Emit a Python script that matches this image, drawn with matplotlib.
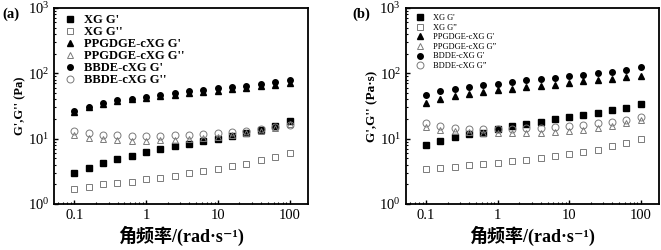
import numpy as np
import matplotlib
matplotlib.use("Agg")
import matplotlib.pyplot as plt

plt.rcParams["font.family"] = ["Liberation Serif", "Noto Sans CJK SC", "DejaVu Serif"]

freq = [0.1, 0.158, 0.251, 0.398, 0.631, 1, 1.58, 2.51, 3.98, 6.31, 10, 15.8, 25.1, 39.8, 63.1, 100]

# panel (a), Pa
a_xg_g1 = [3.0, 3.6, 4.25, 4.9, 5.5, 6.15, 6.9, 7.7, 8.4, 9.1, 10.0, 11.0, 12.0, 13.5, 15.5, 18.5]
a_xg_g2 = [1.67, 1.83, 2.0, 2.13, 2.2, 2.4, 2.54, 2.69, 2.95, 3.2, 3.44, 3.77, 4.14, 4.71, 5.29, 6.08]
a_pp_g1 = [26, 30.5, 33.7, 37.4, 40, 42.5, 44.6, 46.7, 49.5, 51.3, 53.7, 56.9, 59.7, 63.1, 66.1, 71]
a_pp_g2 = [11.3, 10.2, 9.8, 9.5, 9.3, 9.3, 9.4, 9.6, 9.8, 10.1, 10.6, 11.2, 12.0, 13.3, 14.8, 16.5]
a_bb_g1 = [26.5, 31, 35, 38.5, 41, 44, 47, 50, 53, 56, 59, 62, 65, 69, 73, 79]
a_bb_g2 = [13.0, 12.0, 11.5, 11.2, 11.0, 11.0, 11.0, 11.2, 11.4, 11.7, 12.0, 12.5, 13.2, 14.0, 15.2, 16.2]

# panel (b), Pa·s
b_xg_g1 = [8.0, 9.2, 10.5, 11.8, 12.3, 14.0, 15.6, 16.5, 18.0, 19.7, 21.1, 22.9, 24.9, 27.3, 29.7, 33.7]
b_xg_g2 = [3.45, 3.57, 3.7, 3.93, 4.07, 4.26, 4.52, 4.79, 5.08, 5.45, 5.77, 6.27, 6.8, 7.64, 8.7, 10.0]
b_pp_g1 = [34.9, 40.6, 44.7, 47.9, 51.4, 55, 57.7, 61.2, 64.1, 67.2, 71.3, 75.5, 79.1, 83, 86.9, 92.1]
b_pp_g2 = [15.0, 13.7, 13.0, 12.5, 12.2, 12.0, 12.0, 12.1, 12.3, 12.6, 13.0, 13.6, 14.5, 15.8, 17.5, 19.5]
b_bd_g1 = [46.8, 53.2, 57.7, 62.7, 65.6, 69.6, 73.8, 78.2, 82, 86, 90, 94.4, 100, 106, 112, 123]
b_bd_g2 = [17.5, 15.5, 14.8, 14.3, 14.1, 14.1, 14.2, 14.4, 14.7, 15.2, 15.7, 16.3, 17.2, 18.3, 19.6, 21.5]

labels_a = ["XG G'", "XG G''", "PPGDGE-cXG G'", "PPGDGE-cXG G''", "BBDE-cXG G'", "BBDE-cXG G''"]
labels_b = ["XG G'", "XG G\u201d", "PPGDGE-cXG G'", "PPGDGE-cXG G\u201d", "BDDE-cXG G'", "BDDE-cXG G\u201d"]

STYLES = [("s", True), ("s", False), ("^", True), ("^", False), ("o", True), ("o", False)]
GREY = "#7a7a7a"


def panel(ax, series, labels, ylabel, ylab_size, tag, tag_x, legend_bold):
    for y, lab, (m, filled) in zip(series, labels, STYLES):
        if filled:
            ax.plot(freq, y, ls="none", marker=m, ms=4, color="black", label=lab)
        else:
            ax.plot(freq, y, ls="none", marker=m, ms=5, mfc="none", mec=GREY, mew=0.7, label=lab)
    ax.set_xscale("log"); ax.set_yscale("log")
    ax.set_xlim(0.052, 180); ax.set_ylim(1, 1000)
    ax.set_xticks([0.1, 1, 10, 100]); ax.set_xticklabels(["0.1", "1", "10", "100"])
    ax.tick_params(which="both", direction="in", top=False, right=False, labelsize=10.5)
    ax.tick_params(which="major", length=3, width=1)
    ax.tick_params(which="minor", length=1.5, width=0.8)
    for s in ax.spines.values():
        s.set_linewidth(1.3)
    ax.set_ylabel(ylabel, fontsize=ylab_size, fontweight="bold", labelpad=1)
    ax.set_xlabel("角频率/(rad·s\u207b\u00b9)", fontsize=13, fontweight="bold", labelpad=3)
    if legend_bold:
        ax.legend(loc="upper left", frameon=False, prop={"weight": "bold", "size": 9},
                  handletextpad=0.3, labelspacing=0.0, borderaxespad=0.2, borderpad=0.3,
                  handlelength=1.6)
    else:
        ax.legend(loc="upper left", frameon=False, prop={"size": 6},
                  handletextpad=0.5, labelspacing=0.2, borderaxespad=0.3)
    fig.text(tag_x, 0.97, tag, fontsize=10.5, fontweight="bold", va="top", ha="left")


fig = plt.figure(figsize=(6.61, 2.5), dpi=100)
ax1 = fig.add_axes([0.0817, 0.184, 0.384, 0.784])
ax2 = fig.add_axes([0.614, 0.184, 0.383, 0.784])
panel(ax1, [a_xg_g1, a_xg_g2, a_pp_g1, a_pp_g2, a_bb_g1, a_bb_g2], labels_a,
      "G',G'' (Pa)", 9, "(a)", 0.003, True)
panel(ax2, [b_xg_g1, b_xg_g2, b_pp_g1, b_pp_g2, b_bd_g1, b_bd_g2], labels_b,
      "G',G'' (Pa·s)", 9.5, "(b)", 0.533, False)
fig.savefig("out.png", dpi=100)
